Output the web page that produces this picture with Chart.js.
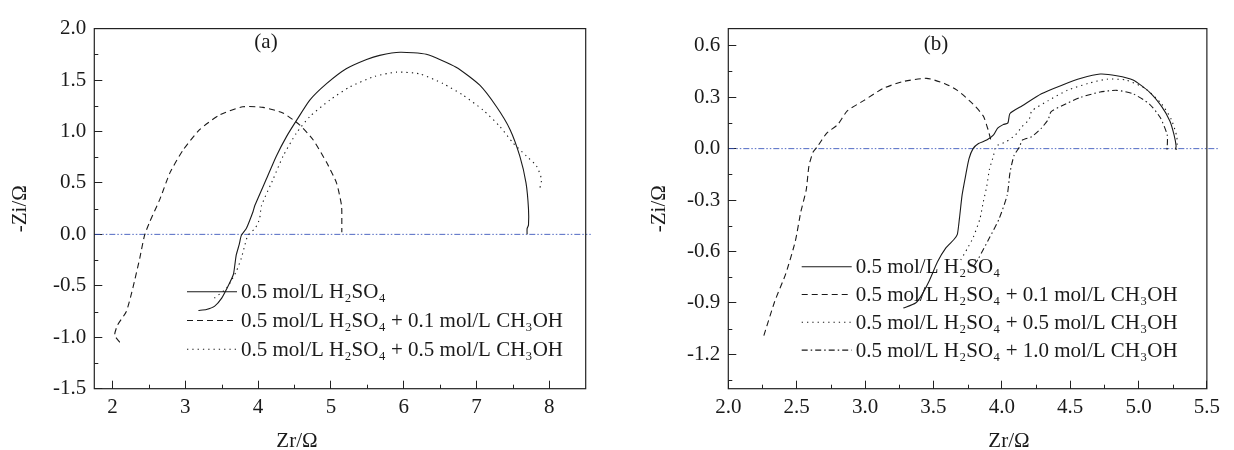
<!DOCTYPE html>
<html><head><meta charset="utf-8">
<script src="https://cdn.jsdelivr.net/npm/chart.js@4.4.0/dist/chart.umd.min.js"></script>
<style>
html,body{margin:0;padding:0;background:#fff;}
#wrap{position:relative;width:1234px;height:450px;overflow:hidden;}
canvas{position:absolute;top:0;}
#ca{left:0}#cb{left:617px}
</style></head><body>
<div id="wrap"><canvas id="ca" width="617" height="450"></canvas><canvas id="cb" width="617" height="450"></canvas></div>
<script>
// ---------- Panel (a) data: [Zr, -Zi] ----------
const aLabels = ['0.5 mol/L H₂SO₄', '0.5 mol/L H₂SO₄ + 0.1 mol/L CH₃OH', '0.5 mol/L H₂SO₄ + 0.5 mol/L CH₃OH'];
const aH2SO4 = [[3.18,-0.74],[3.29,-0.73],[3.40,-0.70],[3.50,-0.62],[3.59,-0.50],[3.66,-0.39],[3.68,-0.30],[3.70,-0.20],[3.74,-0.10],[3.77,-0.01],[3.84,0.06],[3.93,0.22],[3.955,0.28],[4.115,0.54],[4.25,0.76],[4.39,0.95],[4.53,1.11],[4.71,1.305],[4.94,1.465],[5.21,1.61],[5.49,1.70],[5.67,1.74],[5.95,1.77],[6.31,1.75],[6.72,1.625],[7.045,1.45],[7.275,1.24],[7.46,1.02],[7.595,0.76],[7.68,0.50],[7.714,0.25],[7.714,0.09],[7.695,0.056],[7.695,0.0]];
const aMeOH01 = [[2.10,-1.05],[2.03,-0.98],[2.07,-0.88],[2.19,-0.75],[2.28,-0.52],[2.375,-0.23],[2.44,-0.01],[2.51,0.12],[2.65,0.34],[2.79,0.60],[2.97,0.82],[3.20,1.02],[3.47,1.16],[3.79,1.24],[4.07,1.234],[4.34,1.18],[4.57,1.064],[4.755,0.92],[4.94,0.70],[5.077,0.50],[5.146,0.28],[5.15,0.12],[5.15,0.02]];
const aMeOH05 = [[3.40,-0.62],[3.57,-0.52],[3.70,-0.36],[3.77,-0.23],[3.82,-0.10],[3.86,-0.01],[3.96,0.06],[4.02,0.15],[4.047,0.28],[4.206,0.536],[4.343,0.76],[4.527,0.985],[4.71,1.145],[4.985,1.305],[5.26,1.433],[5.60,1.535],[5.90,1.577],[6.22,1.56],[6.54,1.465],[6.816,1.353],[7.09,1.208],[7.32,1.05],[7.50,0.89],[7.687,0.76],[7.824,0.665],[7.893,0.536],[7.87,0.447]];
const aZero = [[1.75,0],[8.57,0]];
const aXTicks = [2,3,4,5,6,7,8];
const aXMinor = [2.5,3.5,4.5,5.5,6.5,7.5];
const aYTicks = [-1.5,-1.0,-0.5,0.0,0.5,1.0,1.5,2.0];
const aYMinor = [-1.25,-0.75,-0.25,0.25,0.75,1.25,1.75];

// ---------- Panel (b) data ----------
const bLabels = ['0.5 mol/L H₂SO₄', '0.5 mol/L H₂SO₄ + 0.1 mol/L CH₃OH', '0.5 mol/L H₂SO₄ + 0.5 mol/L CH₃OH', '0.5 mol/L H₂SO₄ + 1.0 mol/L CH₃OH'];
const bH2SO4 = [[3.28,-0.93],[3.37,-0.90],[3.41,-0.86],[3.47,-0.77],[3.53,-0.66],[3.59,-0.58],[3.65,-0.53],[3.675,-0.50],[3.69,-0.41],[3.71,-0.27],[3.735,-0.16],[3.76,-0.06],[3.79,0.0],[3.83,0.03],[3.89,0.05],[3.94,0.08],[3.97,0.12],[4.01,0.14],[4.045,0.15],[4.06,0.205],[4.15,0.25],[4.29,0.32],[4.44,0.37],[4.58,0.41],[4.72,0.435],[4.84,0.425],[4.96,0.40],[5.08,0.33],[5.17,0.245],[5.23,0.16],[5.26,0.08],[5.275,0.015],[5.27,-0.005]];
const bMeOH01 = [[2.26,-1.09],[2.34,-0.89],[2.42,-0.73],[2.49,-0.54],[2.53,-0.37],[2.57,-0.24],[2.59,-0.10],[2.62,-0.02],[2.65,0.01],[2.72,0.09],[2.80,0.14],[2.87,0.22],[2.99,0.28],[3.13,0.35],[3.27,0.39],[3.45,0.41],[3.58,0.38],[3.675,0.34],[3.79,0.26],[3.865,0.19],[3.90,0.11],[3.92,0.05]];
const bMeOH05 = [[3.70,-0.65],[3.75,-0.58],[3.79,-0.52],[3.84,-0.41],[3.865,-0.31],[3.89,-0.22],[3.91,-0.12],[3.94,-0.04],[3.95,0.0],[3.97,0.02],[4.03,0.04],[4.10,0.08],[4.15,0.13],[4.20,0.17],[4.22,0.22],[4.34,0.28],[4.48,0.34],[4.63,0.38],[4.77,0.405],[4.91,0.40],[5.05,0.35],[5.17,0.26],[5.24,0.17],[5.28,0.07],[5.28,0.0],[5.255,-0.02]];
const bMeOH10 = [[3.80,-0.68],[3.83,-0.64],[3.91,-0.52],[3.98,-0.41],[4.04,-0.27],[4.06,-0.14],[4.09,-0.04],[4.13,0.01],[4.15,0.05],[4.22,0.07],[4.29,0.12],[4.34,0.17],[4.36,0.215],[4.44,0.25],[4.58,0.30],[4.72,0.33],[4.84,0.34],[4.96,0.32],[5.08,0.26],[5.16,0.18],[5.21,0.08],[5.21,0.01],[5.205,-0.02]];
const bZero = [[2.0,0],[5.58,0]];
const bXTicks = [2.0,2.5,3.0,3.5,4.0,4.5,5.0,5.5];
const bXMinor = [2.25,2.75,3.25,3.75,4.25,4.75,5.25];
const bYTicks = [-1.2,-0.9,-0.6,-0.3,0.0,0.3,0.6];
const bYMinor = [-1.35,-1.05,-0.75,-0.45,-0.15,0.15,0.45];

// ---------- styling ----------
const FONT = "'Liberation Serif', 'Times New Roman', serif";
const INK = '#1a1a1a';
Chart.defaults.font.family = FONT;
Chart.defaults.color = INK;

const STYLES = [
  {borderDash: []},
  {borderDash: [6,4]},
  {borderDash: [1.3,4]},
  {borderDash: [6,3,1.5,3]}
];
const pts = arr => arr.map(p => ({x: p[0], y: p[1]}));

function curve(label, arr, i) {
  return {label, data: pts(arr), borderColor: INK, borderWidth: 1.1, borderDash: STYLES[i].borderDash,
    showLine: true, pointRadius: 0, tension: 0.2, fill: false};
}
function zeroLine(arr) {
  return {label: 'zero', isRef: true, data: pts(arr), borderColor: 'rgba(50,80,185,0.85)', borderWidth: 1,
    borderDash: [6,2,1.5,2,1.5,2], showLine: true, pointRadius: 0, tension: 0, clip: false};
}

const framePlugin = {
  id: 'frame',
  afterDatasetsDraw(chart, args, o) {
    const {ctx, chartArea: a, scales} = chart;
    ctx.save();
    ctx.setLineDash([]);
    ctx.strokeStyle = '#222';
    ctx.lineWidth = 1.2;
    ctx.strokeRect(a.left, a.top, a.right - a.left, a.bottom - a.top);
    ctx.lineWidth = 1;
    o.xMinor.forEach(v => { const p = Math.round(scales.x.getPixelForValue(v)) + 0.5;
      ctx.beginPath(); ctx.moveTo(p, a.bottom); ctx.lineTo(p, a.bottom - 4); ctx.stroke(); });
    o.yMinor.forEach(v => { const p = Math.round(scales.y.getPixelForValue(v)) + 0.5;
      ctx.beginPath(); ctx.moveTo(a.left, p); ctx.lineTo(a.left + 4, p); ctx.stroke(); });
    // legend (no box, drawn inside the plot)
    ctx.font = '21px ' + FONT;
    ctx.fillStyle = INK;
    ctx.textBaseline = 'middle';
    ctx.textAlign = 'left';
    let row = 0;
    chart.data.datasets.forEach(ds => {
      if (ds.isRef) return;
      const y = o.legend.y + row * o.legend.gap;
      ctx.strokeStyle = INK; ctx.lineWidth = 1.1;
      ctx.setLineDash(ds.borderDash || []);
      ctx.beginPath(); ctx.moveTo(o.legend.x, y); ctx.lineTo(o.legend.x + 50, y); ctx.stroke();
      ctx.setLineDash([]);
      ctx.fillText(ds.label, o.legend.x + 54, y + 1);
      row++;
    });
    // panel tag and x-axis title
    ctx.textAlign = 'center';
    ctx.font = '21px ' + FONT;
    ctx.fillText(o.tag.text, o.tag.x, o.tag.y);
    ctx.fillText(o.xTitle.text, o.xTitle.x, o.xTitle.y);
    ctx.restore();
  }
};

function xAxis(min, max, ticks, fmt) {
  return {type: 'linear', position: 'bottom', min, max,
    afterBuildTicks: s => { s.ticks = ticks.map(v => ({value: v})); },
    afterFit: s => { s.height = 61.3; },
    ticks: {callback: v => fmt(v), padding: 14, font: {size: 21}, color: INK, maxRotation: 0, autoSkip: false},
    grid: {display: true, drawOnChartArea: false, drawTicks: true, tickLength: -8, tickColor: '#222', tickWidth: 1},
    border: {display: false}};
}
function yAxis(min, max, ticks, width, titlePad) {
  return {type: 'linear', position: 'left', min, max,
    afterBuildTicks: s => { s.ticks = ticks.map(v => ({value: v})); },
    afterFit: s => { s.width = width; },
    ticks: {callback: v => v.toFixed(1), padding: 16, font: {size: 21}, color: INK, autoSkip: false},
    grid: {display: true, drawOnChartArea: false, drawTicks: true, tickLength: -8, tickColor: '#222', tickWidth: 1},
    border: {display: false},
    title: {display: true, text: '-Zi/Ω', font: {size: 21}, color: INK, padding: {top: titlePad, bottom: 0}}};
}

new Chart(document.getElementById('ca'), {
  type: 'scatter',
  data: {datasets: [
    curve(aLabels[0], aH2SO4, 0),
    curve(aLabels[1], aMeOH01, 1),
    curve(aLabels[2], aMeOH05, 2),
    zeroLine(aZero)
  ]},
  options: {
    responsive: false, animation: false, devicePixelRatio: 1,
    layout: {padding: {left: 0, top: 24.3, right: 31.3, bottom: 0}},
    scales: {x: xAxis(1.75, 8.5, aXTicks, v => String(v)), y: yAxis(-1.5, 2.0, aYTicks, 94.3, 8)},
    plugins: {legend: {display: false}, tooltip: {enabled: false},
      frame: {xMinor: aXMinor, yMinor: aYMinor, legend: {x: 187, y: 291.7, gap: 28.8},
        tag: {text: '(a)', x: 266, y: 42}, xTitle: {text: 'Zr/Ω', x: 297, y: 441}}}
  },
  plugins: [framePlugin]
});

new Chart(document.getElementById('cb'), {
  type: 'scatter',
  data: {datasets: [
    curve(bLabels[0], bH2SO4, 0),
    curve(bLabels[1], bMeOH01, 1),
    curve(bLabels[2], bMeOH05, 2),
    curve(bLabels[3], bMeOH10, 3),
    zeroLine(bZero)
  ]},
  options: {
    responsive: false, animation: false, devicePixelRatio: 1,
    layout: {padding: {left: 0, top: 24.3, right: 14.7, bottom: 0}},
    scales: {x: xAxis(2.0, 5.5, bXTicks, v => v.toFixed(1)), y: yAxis(-1.4, 0.7, bYTicks, 111.3, 29.4)},
    plugins: {legend: {display: false}, tooltip: {enabled: false},
      frame: {xMinor: bXMinor, yMinor: bYMinor, legend: {x: 184.7, y: 266.7, gap: 27.8},
        tag: {text: '(b)', x: 319, y: 44}, xTitle: {text: 'Zr/Ω', x: 392, y: 441}}}
  },
  plugins: [framePlugin]
});
</script>
</body></html>
